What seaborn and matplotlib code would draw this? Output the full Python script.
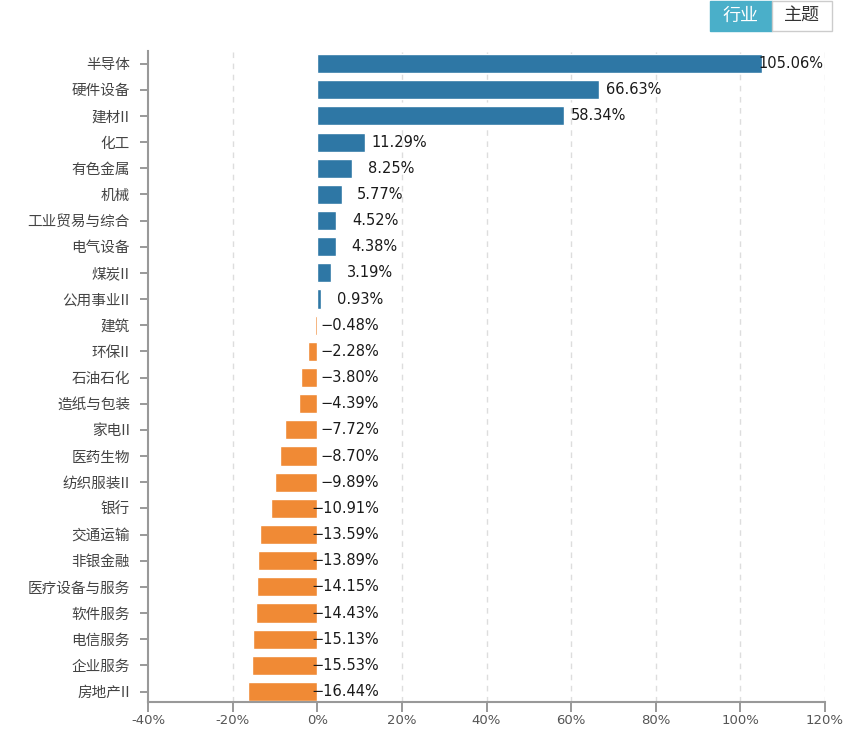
import pandas as pd
import seaborn as sns
import matplotlib.pyplot as plt
from matplotlib.patches import Rectangle

categories = ['半导体', '硬件设备', '建材II', '化工', '有色金属', '机械', '工业贸易与综合',
              '电气设备', '煤炭II', '公用事业II', '建筑', '环保II', '石油石化', '造纸与包装',
              '家电II', '医药生物', '纺织服装II', '银行', '交通运输', '非银金融',
              '医疗设备与服务', '软件服务', '电信服务', '企业服务', '房地产II']
values = [105.06, 66.63, 58.34, 11.29, 8.25, 5.77, 4.52, 4.38, 3.19, 0.93,
          -0.48, -2.28, -3.80, -4.39, -7.72, -8.70, -9.89, -10.91, -13.59, -13.89,
          -14.15, -14.43, -15.13, -15.53, -16.44]
x_ticks = [-40, -20, 0, 20, 40, 60, 80, 100, 120]
buttons = ['行业', '主题']

BLUE = '#2e77a5'
ORANGE = '#f08a35'

df = pd.DataFrame({'name': categories, 'pct': values})
df['sign'] = ['pos' if v >= 0 else 'neg' for v in values]

sns.set_style('white')
plt.rcParams['font.family'] = ['DejaVu Sans', 'Noto Sans CJK SC']

fig = plt.figure(figsize=(8.64, 7.36), dpi=100)
ax = fig.add_axes([148 / 864, 1 - 702 / 736, (825 - 148) / 864, (702 - 51) / 736])

# 虚线网格
for t in x_ticks:
    if t in (-40, 0):
        continue
    ax.axvline(t, color='#dddddd', lw=1, ls=(0, (4, 4)), zorder=0)

sns.barplot(data=df, y='name', x='pct', hue='sign', dodge=False, legend=False,
            palette={'pos': BLUE, 'neg': ORANGE}, width=0.73, ax=ax,
            saturation=1, zorder=2)

ax.set_xlim(-40, 120)
ax.set_ylim(24.4, -0.48)
ax.set_xticks(x_ticks)
ax.set_xticklabels([f'{t}%' for t in x_ticks], color='#555555', fontsize=9.5)
ax.set_yticks(range(len(categories)))
ax.set_yticklabels(categories, family=['Noto Sans CJK SC', 'DejaVu Sans'],
                   color='#444444', fontsize=10.5)
ax.set_xlabel('')
ax.set_ylabel('')

for s in ['top', 'right']:
    ax.spines[s].set_visible(False)
for s in ['left', 'bottom']:
    ax.spines[s].set_color('#999999')
    ax.spines[s].set_linewidth(1.5)
ax.tick_params(axis='y', length=6, width=1.2, color='#888888', pad=7, left=True)
ax.tick_params(axis='x', length=7, width=1.2, color='#888888', pad=2, bottom=True)

# 数值标签
for i, v in enumerate(values):
    txt = f'{v:.2f}%'.replace('-', '\u2212')
    ax.annotate(txt, xy=(max(v, 0), i), xytext=(62, 0), textcoords='offset pixels',
                ha='right', va='center', fontsize=10.5, color='#1a1a1a')

# 右上角按钮
fig.patches.append(Rectangle((710 / 864, 1 - 31 / 736), 62 / 864, 30 / 736,
                             transform=fig.transFigure, facecolor='#4aafc9',
                             edgecolor='#4aafc9', lw=1))
fig.patches.append(Rectangle((772 / 864, 1 - 31 / 736), 60 / 864, 30 / 736,
                             transform=fig.transFigure, facecolor='white',
                             edgecolor='#cccccc', lw=1))
fig.text(741 / 864, 1 - 16 / 736, buttons[0], color='white', fontsize=13,
         ha='center', va='center', family=['Noto Sans CJK SC'])
fig.text(802 / 864, 1 - 16 / 736, buttons[1], color='#333333', fontsize=13,
         ha='center', va='center', family=['Noto Sans CJK SC'])

plt.savefig('out.png', dpi=100)
plt.close()
